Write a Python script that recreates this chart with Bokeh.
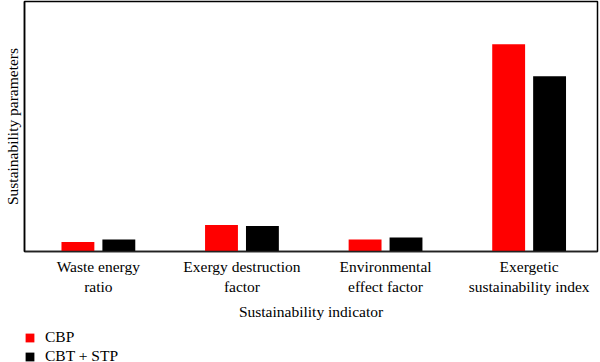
from bokeh.plotting import figure
from bokeh.layouts import column
from bokeh.models import (Range1d, FixedTicker, Legend, LegendItem, ColumnDataSource,
                          GlobalInlineStyleSheet)
from bokeh.transform import dodge
from bokeh.embed import file_html
from bokeh.resources import INLINE

categories = ["Waste energy\nratio", "Exergy destruction\nfactor",
              "Environmental\neffect factor", "Exergetic\nsustainability index"]
series = ["CBP", "CBT + STP"]
colors = ["#ff0000", "#000000"]
cbp = [0.95, 2.65, 1.2, 20.8]
cbt_stp = [1.2, 2.55, 1.4, 17.6]

positions = list(range(len(categories)))
src = ColumnDataSource(dict(x=positions, cbp=cbp, cbt=cbt_stp))

FONT = "Liberation Serif"
FS = "15.5px"

p = figure(width=600, height=322, output_backend="svg", toolbar_location=None,
           x_range=Range1d(-0.5145, 3.4762), y_range=Range1d(0, 25.1),
           min_border_left=23, min_border_right=3, min_border_top=1,
           min_border_bottom=70)
p.stylesheets = [GlobalInlineStyleSheet(css="html, body { margin: 0 !important; padding: 0 !important; overflow: hidden; }")]
p.background_fill_color = "white"
p.border_fill_color = "white"
p.outline_line_color = "black"
p.outline_line_width = 1.5
p.xgrid.visible = False
p.ygrid.visible = False

r1 = p.vbar(x=dodge("x", -0.1425), top="cbp", width=0.229, source=src,
            fill_color=colors[0], line_color=None)
r2 = p.vbar(x=dodge("x", 0.1425), top="cbt", width=0.229, source=src,
            fill_color=colors[1], line_color=None)

xa = p.xaxis[0]
xa.ticker = FixedTicker(ticks=positions)
xa.major_label_overrides = {i: c for i, c in zip(positions, categories)}
xa.major_tick_line_color = None
xa.minor_tick_line_color = None
xa.major_tick_out = 0
xa.major_tick_in = 0
xa.axis_line_color = "#222222"
xa.axis_line_width = 1.5
xa.major_label_text_font = FONT
xa.major_label_text_font_size = FS
xa.major_label_text_color = "black"
xa.major_label_standoff = 6
xa.axis_label = "Sustainability indicator"
xa.axis_label_text_font = FONT
xa.axis_label_text_font_size = FS
xa.axis_label_text_font_style = "normal"
xa.axis_label_text_color = "black"
xa.axis_label_standoff = 5

ya = p.yaxis[0]
ya.ticker = FixedTicker(ticks=[])
ya.major_tick_line_color = None
ya.minor_tick_line_color = None
ya.major_tick_out = 0
ya.major_tick_in = 0
ya.major_label_text_font_size = "0px"
ya.axis_line_color = "black"
ya.axis_line_width = 1.5
ya.axis_label = "Sustainability parameters"
ya.axis_label_text_font = FONT
ya.axis_label_text_font_size = FS
ya.axis_label_text_font_style = "normal"
ya.axis_label_text_color = "black"
ya.axis_label_standoff = 4

# legend strip below the chart (bars from the same data fall outside its y range)
lf = figure(width=600, height=40, output_backend="svg", toolbar_location=None,
            x_range=Range1d(-0.5145, 3.4762), y_range=Range1d(100, 101),
            x_axis_location=None, y_axis_location=None,
            min_border_left=0, min_border_right=0, min_border_top=0,
            min_border_bottom=0)
lf.outline_line_color = None
lf.xgrid.visible = False
lf.ygrid.visible = False
lf.background_fill_color = "white"
lf.border_fill_color = "white"
d1 = lf.vbar(x=dodge("x", -0.1425), top="cbp", width=0.229, source=src,
             fill_color=colors[0], line_color=None)
d2 = lf.vbar(x=dodge("x", 0.1425), top="cbt", width=0.229, source=src,
             fill_color=colors[1], line_color=None)

legend = Legend(items=[LegendItem(label=series[0], renderers=[d1]),
                       LegendItem(label=series[1], renderers=[d2])],
                location=(0, -3), orientation="vertical",
                glyph_width=11, glyph_height=11, label_height=11,
                label_standoff=10, spacing=1, padding=0, margin=0,
                border_line_color=None, background_fill_alpha=0,
                label_text_font=FONT, label_text_font_size=FS,
                label_text_color="black")
lf.add_layout(legend, "center")

layout = column(p, lf, spacing=0)
open("out.html", "w").write(file_html(layout, INLINE))
